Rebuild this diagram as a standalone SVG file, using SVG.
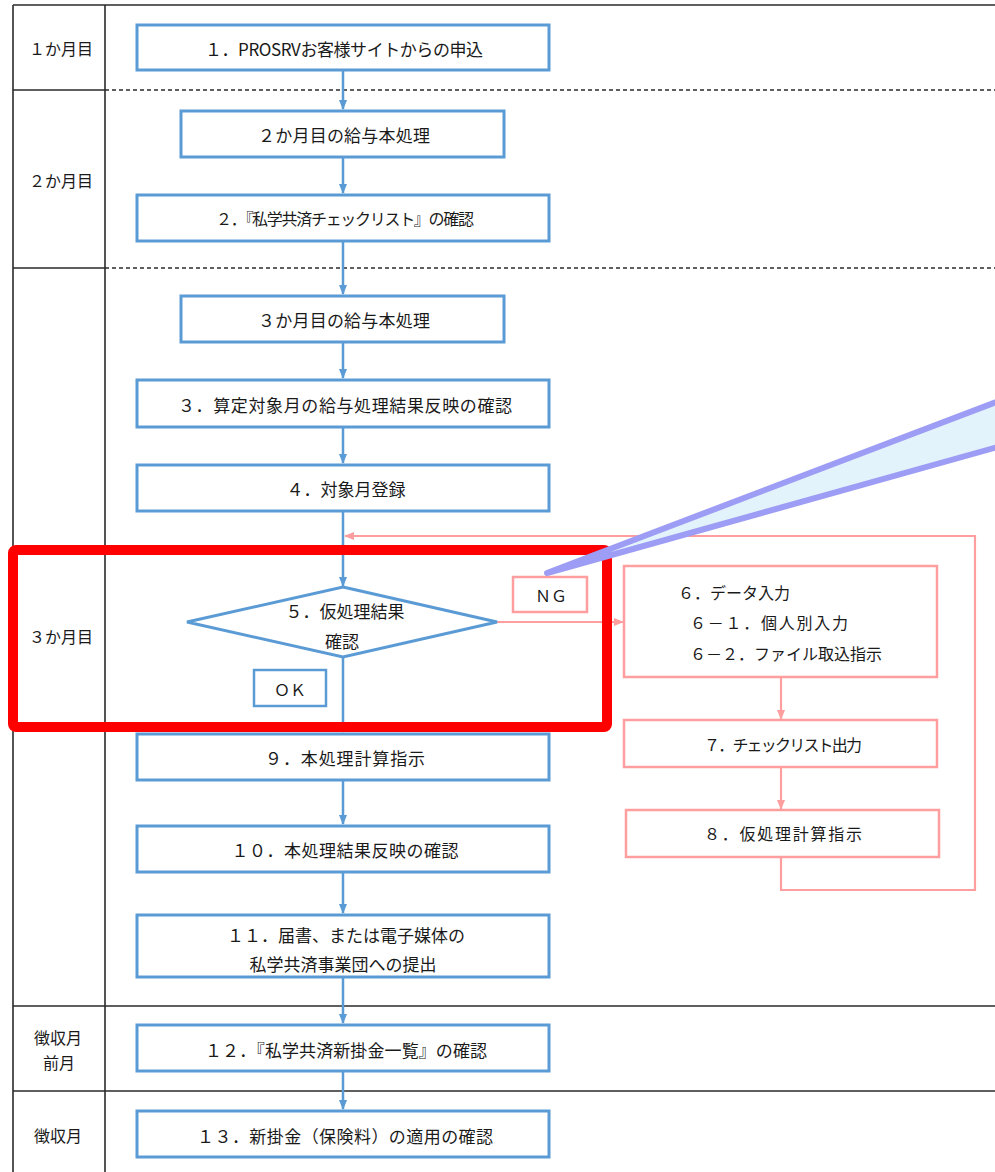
<svg xmlns="http://www.w3.org/2000/svg" width="995" height="1172" viewBox="0 0 995 1172">
<style>
text{font-family:"Noto Sans CJK JP","Noto Sans",sans-serif;fill:#1a1a1a;font-size:17px;dominant-baseline:central}
.m{text-anchor:middle}
.s{font-size:16px}
.bb{fill:#fff;stroke:#5B9BD5;stroke-width:3}
.pb{fill:#fff;stroke:#FF9E9E;stroke-width:2.5}
.tl{stroke:#2b2b2b;stroke-width:1.6;fill:none}
.dl{stroke:#2b2b2b;stroke-width:1.6;stroke-dasharray:4 3;fill:none}
.bc{stroke:#5B9BD5;stroke-width:2.5;fill:none}
.pc{stroke:#FF9E9E;stroke-width:2.2;fill:none}
</style>
<defs>
<marker id="ab" markerWidth="10" markerHeight="10" refX="9" refY="5" orient="auto" markerUnits="userSpaceOnUse"><path d="M0,1 L10,5 L0,9 z" fill="#5B9BD5"/></marker>
<marker id="ap" markerWidth="10" markerHeight="10" refX="9" refY="5" orient="auto" markerUnits="userSpaceOnUse"><path d="M0,1 L10,5 L0,9 z" fill="#FF9E9E"/></marker>
</defs>
<rect width="995" height="1172" fill="#fff"/>
<g id="table">
<path class="tl" d="M13,5 H995 M13,5 V1172 M105,5 V1172 M13,90 H105 M13,268 H105 M13,1006 H995 M13,1091 H995"/>
<path class="dl" d="M105,90 H995 M105,268 H995"/>
<text class="m" x="61" y="48" style="font-size:16px">１か月目</text>
<text class="m" x="61" y="180" style="font-size:16px">２か月目</text>
<text class="m" x="61" y="636" style="font-size:16px">３か月目</text>
<text class="m" x="58" y="1037" style="font-size:16px">徴収月</text>
<text class="m" x="59" y="1062" style="font-size:16px">前月</text>
<text class="m" x="58" y="1135" style="font-size:16px">徴収月</text>
</g>
<g id="connectors">
<path class="bc" d="M343,70 V109" marker-end="url(#ab)"/>
<path class="bc" d="M343,157 V193" marker-end="url(#ab)"/>
<path class="bc" d="M343,241 V294" marker-end="url(#ab)"/>
<path class="bc" d="M343,342 V378" marker-end="url(#ab)"/>
<path class="bc" d="M343,427 V463" marker-end="url(#ab)"/>
<path class="bc" d="M343,511 V586" marker-end="url(#ab)"/>
<path class="bc" d="M343,657 V732" marker-end="url(#ab)"/>
<path class="bc" d="M343,780 V824" marker-end="url(#ab)"/>
<path class="bc" d="M343,872 V913" marker-end="url(#ab)"/>
<path class="bc" d="M343,977 V1023" marker-end="url(#ab)"/>
<path class="bc" d="M343,1071 V1109" marker-end="url(#ab)"/>
<path class="pc" d="M497,622 H623" marker-end="url(#ap)"/>
<path class="pc" d="M781,677 V719" marker-end="url(#ap)"/>
<path class="pc" d="M781,767 V809" marker-end="url(#ap)"/>
<path class="pc" d="M781,857 V890 H975 V536 H345" marker-end="url(#ap)"/>
</g>
<g id="n1"><rect class="bb" x="137" y="25" width="412" height="45"/><text class="m" x="344" y="48" textLength="278">１．PROSRVお客様サイトからの申込</text></g>
<g id="n2a"><rect class="bb" x="181" y="111" width="323" height="46"/><text class="m" x="344" y="134" textLength="172">２か月目の給与本処理</text></g>
<g id="n2"><rect class="bb" x="137" y="195" width="412" height="46"/><text class="m" x="345" y="218" style="font-size:16px" textLength="258">２．『私学共済チェックリスト』の確認</text></g>
<g id="n3a"><rect class="bb" x="181" y="296" width="323" height="46"/><text class="m" x="344" y="319" textLength="172">３か月目の給与本処理</text></g>
<g id="n3"><rect class="bb" x="137" y="380" width="412" height="47"/><text class="m" x="345" y="404" textLength="334">３．算定対象月の給与処理結果反映の確認</text></g>
<g id="n4"><rect class="bb" x="137" y="465" width="412" height="46"/><text class="m" x="346" y="488">４．対象月登録</text></g>
<g id="n5"><polygon class="bb" points="343,587 497,622 343,657 187,622"/><text class="m" x="345" y="610">５．仮処理結果</text><text class="m" x="342" y="640">確認</text></g>
<g id="ok"><rect class="bb" x="254" y="670" width="72" height="36" style="stroke-width:2.5"/><text class="m s" x="290" y="689">ＯＫ</text></g>
<g id="ng"><rect class="pb" x="513" y="577" width="74" height="35"/><text class="m s" x="551" y="595">ＮＧ</text></g>
<g id="n6"><rect class="pb" x="624" y="566" width="313" height="111"/><text class="s" x="678" y="592">６．データ入力</text><text class="s" x="690" y="622" textLength="158">６－１．個人別入力</text><text class="s" x="690" y="653">６－２．ファイル取込指示</text></g>
<g id="n7"><rect class="pb" x="624" y="720" width="313" height="47"/><text class="m s" x="783" y="744" textLength="158">７．チェックリスト出力</text></g>
<g id="n8"><rect class="pb" x="626" y="810" width="313" height="47"/><text class="m s" x="783" y="833" textLength="158">８．仮処理計算指示</text></g>
<g id="n9"><rect class="bb" x="137" y="734" width="412" height="46"/><text class="m" x="345" y="757" textLength="160">９．本処理計算指示</text></g>
<g id="n10"><rect class="bb" x="137" y="826" width="412" height="46"/><text class="m" x="345" y="849" textLength="227">１０．本処理結果反映の確認</text></g>
<g id="n11"><rect class="bb" x="137" y="915" width="412" height="62"/><text class="m" x="346" y="934">１１．届書、または電子媒体の</text><text class="m" x="343" y="963">私学共済事業団への提出</text></g>
<g id="n12"><rect class="bb" x="137" y="1025" width="412" height="46"/><text class="m" x="346" y="1049" textLength="282">１２．『私学共済新掛金一覧』の確認</text></g>
<g id="n13"><rect class="bb" x="137" y="1111" width="412" height="46"/><text class="m" x="345" y="1135" textLength="296">１３．新掛金（保険料）の適用の確認</text></g>
<g id="highlight"><rect x="13" y="550" width="594" height="177" rx="3" fill="none" stroke="#FF0000" stroke-width="10"/></g>
<g id="callout"><polygon points="547,573 1012,396 1012,443" fill="#E3F3FC" stroke="#9D9DF5" stroke-width="6" stroke-linejoin="round"/></g>
</svg>
